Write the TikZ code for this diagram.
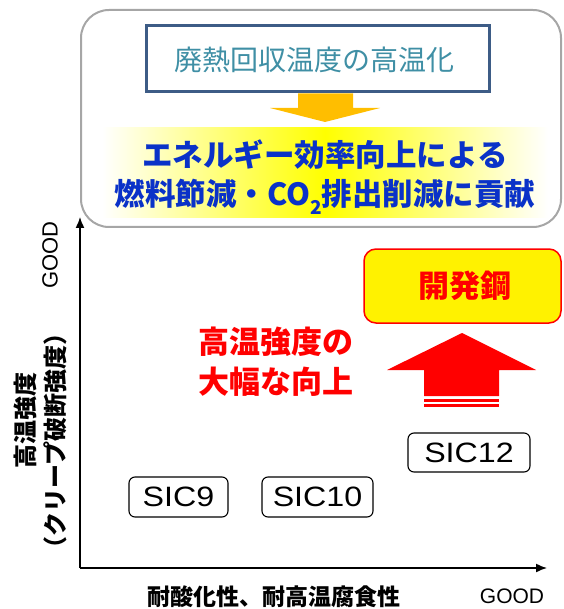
\documentclass[tikz,border=0pt]{standalone}
\usepackage{fontspec}
\newfontfamily\jp{Noto Sans CJK JP}
\newfontfamily\sic[FakeStretch=1.15]{Liberation Sans}
\newfontfamily\lsans{Liberation Sans}
\usetikzlibrary{arrows.meta}
\definecolor{boxblue}{HTML}{3D5C86}
\definecolor{teal1}{HTML}{3F8FA5}
\definecolor{blue1}{HTML}{0A32C8}
\definecolor{orange1}{HTML}{FFBE00}
\definecolor{gray1}{HTML}{A6A6A6}
\tikzset{
  sicbox/.style={draw=black, line width=1.1pt, rounded corners=6pt, inner sep=0pt,
    font=\sic\fontsize{28}{30}\selectfont},
  axis/.style={line width=1.5pt, -{Latex[length=11pt,width=9pt]}},
  redtxt/.style={text=red, font=\jp\bfseries\fontsize{31}{32}\selectfont},
  bluetxt/.style={text=blue1, font=\jp\bfseries\fontsize{30.5}{32}\selectfont},
}
\begin{document}
\begin{tikzpicture}[x=1pt,y=-1pt]
\useasboundingbox (0,0) rectangle (563,609);
% outer rounded box
\node[draw=gray1, line width=2pt, rounded corners=28pt, minimum width=480pt, minimum height=217pt, inner sep=0pt] (outer) at (321,118.5) {};
% yellow gradient band
\node[shading=axis, left color=white, right color=white, middle color=yellow, shading angle=90, minimum width=446pt, minimum height=90pt, inner sep=0pt] (band) at (325,173) {};
\node[bluetxt] (l1) at (325,155) {エネルギー効率向上による};
\node[bluetxt] (l2) at (325,197) {燃料節減・CO\raisebox{-0.28em}{\fontsize{19}{19}\selectfont 2}排出削減に貢献};
% inner box
\node[draw=boxblue, fill=white, line width=3pt, minimum width=343pt, minimum height=66pt, inner sep=0pt] (inner) at (317.5,59) {};
\node[text=teal1, font=\jp\fontsize{28}{30}\selectfont] (t1) at (314,60) {廃熱回収温度の高温化};
% orange arrow
\fill[orange1] (298,93.5) -- (353,93.5) -- (353,108) -- (380,108) -- (325,122) -- (270,108) -- (298,108) -- cycle;
% axes
\coordinate (O) at (80,568);
\coordinate (Ytip) at (80,217);
\coordinate (Xtip) at (547,568);
\draw[axis] (O) -- (Ytip);
\draw[axis] (O) -- (Xtip);
% axis labels
\node[rotate=90, font=\jp\bfseries\fontsize{24}{26}\selectfont] (ylab1) at (25,420) {高温強度};
\node[rotate=90, font=\jp\bfseries\fontsize{24}{26}\selectfont] (ylab2) at (55,441) {（クリープ破断強度）};
\node[rotate=90, font=\lsans\fontsize{22}{26}\selectfont] (ygood) at (50,255) {GOOD};
\node[font=\jp\bfseries\fontsize{23}{26}\selectfont] (xlab) at (274,597) {耐酸化性、耐高温腐食性};
\node[font=\lsans\fontsize{21}{24}\selectfont] (xgood) at (512,596) {GOOD};
% SIC boxes
\node[sicbox, minimum width=99pt, minimum height=40pt] (sic9) at (178.5,497) {SIC9};
\node[sicbox, minimum width=111pt, minimum height=40pt] (sic10) at (317.5,497) {SIC10};
\node[sicbox, minimum width=122pt, minimum height=39pt] (sic12) at (469,452.5) {SIC12};
% development steel
\node[draw=red, fill=yellow, line width=1.5pt, rounded corners=12pt, minimum width=197pt, minimum height=74pt, inner sep=0pt] (dev) at (462.5,286) {};
\node[redtxt] (devt) at (465,286) {開発鋼};
% red arrow
\fill[red] (424,396) -- (424,370) -- (387,370) -- (462,333) -- (536,370) -- (499,370) -- (499,396) -- cycle;
\fill[red] (424,398.7) rectangle (499,401.7);
\fill[red] (424,404) rectangle (499,406.7);
% red text
\node[redtxt] (r1) at (276,342) {高温強度の};
\node[redtxt] (r2) at (276,382) {大幅な向上};
\end{tikzpicture}
\end{document}
